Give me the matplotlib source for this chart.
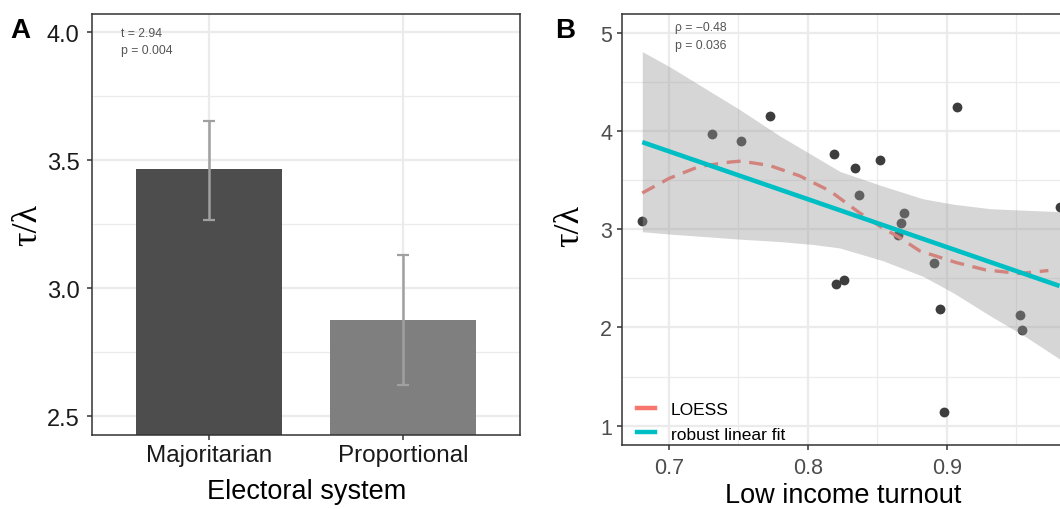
#!/usr/bin/env python3
"""Two-panel figure: tau/lambda by electoral system (A) and vs low income turnout (B)."""
import matplotlib
import numpy as np

matplotlib.use("Agg")
import matplotlib.pyplot as plt  # noqa: E402
from matplotlib.lines import Line2D  # noqa: E402
from matplotlib.ticker import FormatStrFormatter, MultipleLocator  # noqa: E402

plt.rcParams["font.family"] = ["Liberation Sans", "DejaVu Sans"]

# panel A: mean tau/lambda with 95% CI per electoral system
systems = ["Majoritarian", "Proportional"]
ratio_mean = [3.465, 2.875]
ratio_lo = [3.268, 2.621]
ratio_hi = [3.655, 3.129]
ttest_label = "t = 2.94\np = 0.004"

# panel B: countries
turnout = [0.681, 0.731, 0.752, 0.7725, 0.819, 0.8205, 0.826, 0.834, 0.837, 0.852,
           0.865, 0.867, 0.869, 0.891, 0.895, 0.898, 0.907, 0.9525, 0.9537, 0.981]
ratio = [3.085, 3.97, 3.90, 4.15, 3.77, 2.44, 2.48, 3.62, 3.35, 3.71,
         2.94, 3.06, 3.17, 2.66, 2.19, 1.135, 4.25, 2.13, 1.97, 3.23]

loess_x = [0.681, 0.7005, 0.722, 0.744, 0.752, 0.7725, 0.794, 0.816, 0.837, 0.852,
           0.866, 0.8805, 0.907, 0.928, 0.9525, 0.973]
loess_y = [3.37, 3.52, 3.64, 3.685, 3.695, 3.65, 3.545, 3.39, 3.17, 3.03,
           2.915, 2.78, 2.66, 2.586, 2.55, 2.58]

fit_x = [0.681, 0.981]
fit_y = [3.888, 2.423]

band_x = [0.681, 0.702, 0.751, 0.780, 0.804, 0.823, 0.854, 0.883, 0.905, 0.931, 0.955, 0.981]
band_hi = [4.81, 4.645, 4.22, 3.95, 3.75, 3.59, 3.44, 3.31, 3.255, 3.21, 3.195, 3.18]
band_lo = [2.975, 2.95, 2.90, 2.875, 2.845, 2.81, 2.68, 2.52, 2.35, 2.12, 1.92, 1.68]
corr_label = "ρ = −0.48\np = 0.036"

GRID = "#EBEBEB"
FRAME = "#333333"
SERIF = ["Liberation Serif", "DejaVu Serif"]


def _style(ax, tick_color, tick_size):
    ax.set_axisbelow(True)
    ax.grid(which="major", color=GRID, lw=1.6)
    ax.grid(which="minor", color=GRID, lw=0.9)
    for s in ax.spines.values():
        s.set_color(FRAME)
        s.set_linewidth(1.1)
    ax.tick_params(which="major", length=3.8, width=1.1, color=FRAME, pad=3,
                   labelcolor=tick_color, labelsize=tick_size)
    ax.tick_params(which="minor", length=0)


def panel_a(ax):
    x = np.arange(len(systems))
    ax.bar(x, ratio_mean, width=0.75, color=["#4D4D4D", "#7F7F7F"], zorder=2)
    m = np.array(ratio_mean)
    err = [m - np.array(ratio_lo), np.array(ratio_hi) - m]
    ax.errorbar(x, m, yerr=err, fmt="none", ecolor="#A0A0A0", elinewidth=1.8,
                capsize=4.3, capthick=1.6, zorder=3)
    ax.set_xlim(-0.6, 1.6)
    ax.set_ylim(2.427, 4.0716)
    ax.set_xticks(x)
    ax.set_xticklabels(systems)
    ax.yaxis.set_major_locator(MultipleLocator(0.5))
    ax.yaxis.set_minor_locator(MultipleLocator(0.25))
    ax.yaxis.set_major_formatter(FormatStrFormatter("%.1f"))
    _style(ax, "#1A1A1A", 17)
    ax.tick_params(axis="y", pad=5.5)
    ax.tick_params(axis="x", labelsize=17.5, pad=3)
    ax.text(0.067, 0.969, ttest_label, transform=ax.transAxes, fontsize=8.8,
            color="#555555", va="top", linespacing=1.6)
    ax.set_xlabel("Electoral system", fontsize=19.5, va="top")
    ax.xaxis.set_label_coords(0.5, -0.104)
    ax.set_ylabel("τ/λ", fontsize=26, family=SERIF, va="center")
    ax.yaxis.set_label_coords(-0.152, 0.5)


def panel_b(ax):
    ax.scatter(turnout, ratio, s=50, color="#3D3D3D", linewidths=0, zorder=2)
    ax.plot(loess_x, loess_y, color="#F8766D", lw=2.4, dashes=(4.2, 2.6), zorder=3)
    ax.fill_between(band_x, band_lo, band_hi, color="#999999", alpha=0.4, lw=0, zorder=4)
    ax.plot(fit_x, fit_y, color="#00BFC4", lw=3.3, zorder=5, solid_capstyle="butt")
    ax.set_xlim(0.6662, 0.9842)
    ax.set_ylim(0.803, 5.193)
    ax.xaxis.set_major_locator(MultipleLocator(0.1))
    ax.xaxis.set_minor_locator(MultipleLocator(0.05))
    ax.yaxis.set_major_locator(MultipleLocator(1))
    ax.yaxis.set_minor_locator(MultipleLocator(0.5))
    ax.xaxis.set_major_formatter(FormatStrFormatter("%.1f"))
    _style(ax, "#4D4D4D", 15.5)
    ax.tick_params(axis="x", pad=5)
    ax.text(0.1205, 0.984, corr_label, transform=ax.transAxes, fontsize=8.8,
            color="#555555", va="top", linespacing=1.65)
    keys = [Line2D([], [], color="#F8766D", lw=3.2), Line2D([], [], color="#00BFC4", lw=3.2)]
    ax.legend(keys, ["LOESS", "robust linear fit"], loc="lower left",
              bbox_to_anchor=(0.027, 0.0), frameon=False, fontsize=12.5,
              handlelength=1.05, handletextpad=0.9, labelspacing=0.55,
              borderaxespad=0.0, borderpad=0.2)
    ax.set_xlabel("Low income turnout", fontsize=19.5, va="top")
    ax.xaxis.set_label_coords(0.5, -0.087)
    ax.set_ylabel("τ/λ", fontsize=26, family=SERIF, va="center")
    ax.yaxis.set_label_coords(-0.117, 0.51)


def main():
    fig = plt.figure(figsize=(10.6, 5.1), dpi=100)
    ax_a = fig.add_axes([92.3 / 1060, 74.3 / 510, 427.7 / 1060, 420.7 / 510])
    ax_b = fig.add_axes([621.7 / 1060, 64 / 510, 442.3 / 1060, 431 / 510])
    panel_a(ax_a)
    panel_b(ax_b)
    fig.text(10 / 1060, 1 - 38 / 510, "A", fontsize=20, fontweight="bold", va="baseline")
    fig.text(555 / 1060, 1 - 38 / 510, "B", fontsize=20, fontweight="bold", va="baseline")
    fig.savefig("out.png", dpi=100)
    plt.close(fig)


if __name__ == "__main__":
    main()
